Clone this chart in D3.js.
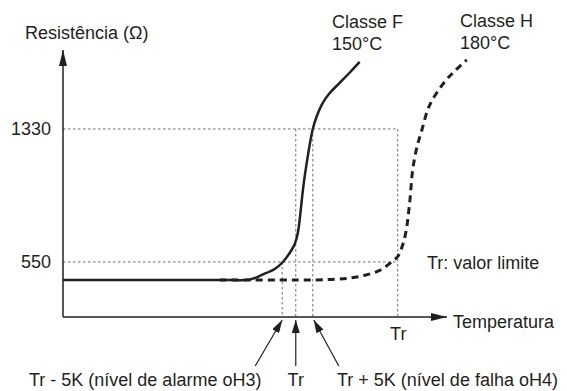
<!DOCTYPE html>
<html>
<head>
<meta charset="utf-8">
<script src="https://cdn.jsdelivr.net/npm/d3@7"></script>
<style>
  body { margin: 0; background: #fff; }
  text { font-family: "Liberation Sans", Arial, sans-serif; fill: #231f20; }
</style>
</head>
<body>
<div id="chart"></div>
<script>
// Classe F curve (solid) - temperature (K) / resistance (ohm)
const classF_temp = [81.5, 120, 131, 136.5, 140.3, 143.8, 146.2, 148.2, 149.7, 150.6, 152.1, 152.9, 155, 156.2, 157.9, 160, 162.9, 165.9, 168.8];
const classF_res  = [444, 444, 444, 447, 477, 509, 550, 603, 656, 720, 972, 1090, 1330, 1406, 1482, 1541, 1600, 1661, 1723];

// Classe H curve (dashed)
const classH_temp = [127.6, 145, 156, 162, 166, 170.3, 174.7, 178.2, 180, 182.1, 183.5, 184.4, 185.6, 187.1, 189.4, 193.8, 196.8, 200.3];
const classH_res  = [444, 444, 445, 449, 456, 472, 501, 550, 582, 697, 896, 1090, 1219, 1324, 1470, 1606, 1670, 1735];

// resistance ticks and temperature reference points
const yTicks = [550, 1330];
const limitTemp = 180;
const guideTemps = [146, 150, 155, 180];
const guideTops  = [550, 1330, 1330, 1330];
const arrowTemps = [146, 150, 155];
const arrowLabels = ["Tr - 5K (nível de alarme oH3)", "Tr", "Tr + 5K (nível de falha oH4)"];

const width = 567, height = 391;
const margin = {left: 63, right: 120, top: 50, bottom: 74};

const svg = d3.select("#chart")
  .append("svg")
    .attr("width", width)
    .attr("height", height);

const x = d3.scaleLinear()
  .domain([81.5, 194.5])
  .range([margin.left, width - margin.right]);

const y = d3.scaleLinear()
  .domain([227.4, 1793])
  .range([height - margin.bottom, margin.top]);

const x0 = x.domain()[0];
const y0 = y.domain()[0];

// arrow heads
const defs = svg.append("defs");
defs.append("marker")
    .attr("id", "axisArrow")
    .attr("viewBox", "0 0 16 8")
    .attr("refX", 16).attr("refY", 4)
    .attr("markerWidth", 16).attr("markerHeight", 8)
    .attr("markerUnits", "userSpaceOnUse")
    .attr("orient", "auto")
  .append("path")
    .attr("d", "M0,0L16,4L0,8Z")
    .attr("fill", "#231f20");
defs.append("marker")
    .attr("id", "smallArrow")
    .attr("viewBox", "0 0 13 8")
    .attr("refX", 13).attr("refY", 4)
    .attr("markerWidth", 13).attr("markerHeight", 8)
    .attr("markerUnits", "userSpaceOnUse")
    .attr("orient", "auto")
  .append("path")
    .attr("d", "M0,0L13,4L0,8Z")
    .attr("fill", "#231f20");

// dotted guide lines
const guides = svg.append("g")
  .attr("stroke", "#6d6e71")
  .attr("stroke-width", 1)
  .attr("stroke-dasharray", "2.5,2.5")
  .attr("fill", "none");

yTicks.forEach(v => {
  guides.append("line")
    .attr("x1", x(x0)).attr("x2", x(limitTemp))
    .attr("y1", y(v)).attr("y2", y(v));
});
guideTemps.forEach((t, i) => {
  guides.append("line")
    .attr("x1", x(t)).attr("x2", x(t))
    .attr("y1", y(guideTops[i])).attr("y2", y(y0));
});

// axes lines with arrows
svg.append("line")
  .attr("x1", x(x0)).attr("y1", y(y0))
  .attr("x2", x.range()[1]).attr("y2", y(y0))
  .attr("stroke", "#231f20").attr("stroke-width", 1.5)
  .attr("marker-end", "url(#axisArrow)");
svg.append("line")
  .attr("x1", x(x0)).attr("y1", y(y0))
  .attr("x2", x(x0)).attr("y2", y.range()[1])
  .attr("stroke", "#231f20").attr("stroke-width", 1.5)
  .attr("marker-end", "url(#axisArrow)");

// Y tick labels
const yAxis = svg.append("g")
  .attr("transform", `translate(${x(x0)},0)`)
  .call(d3.axisLeft(y).tickValues(yTicks).tickSize(0).tickPadding(12).tickFormat(d3.format("d")));
yAxis.select(".domain").remove();
yAxis.selectAll("text")
  .style("font-size", "18px")
  .style("font-family", "Liberation Sans, Arial, sans-serif")
  .attr("fill", "#231f20");

// X tick label (Tr)
const xAxis = svg.append("g")
  .attr("transform", `translate(0,${y(y0)})`)
  .call(d3.axisBottom(x).tickValues([limitTemp]).tickSize(0).tickPadding(10).tickFormat(() => "Tr"));
xAxis.select(".domain").remove();
xAxis.selectAll("text")
  .style("font-size", "18px")
  .style("font-family", "Liberation Sans, Arial, sans-serif")
  .attr("fill", "#231f20");

// curves
const line = d3.line()
  .x(d => x(d[0]))
  .y(d => y(d[1]))
  .curve(d3.curveCatmullRom.alpha(0.5));

svg.append("path")
  .datum(classH_temp.map((t, i) => [t, classH_res[i]]))
  .attr("d", line)
  .attr("fill", "none")
  .attr("stroke", "#231f20")
  .attr("stroke-width", 3)
  .attr("stroke-dasharray", "7,5");

svg.append("path")
  .datum(classF_temp.map((t, i) => [t, classF_res[i]]))
  .attr("d", line)
  .attr("fill", "none")
  .attr("stroke", "#231f20")
  .attr("stroke-width", 2.5);

// annotation arrows pointing to the reference temperatures
const tailOffsets = [-27, 0, 26];
arrowTemps.forEach((t, i) => {
  svg.append("line")
    .attr("x1", x(t) + tailOffsets[i]).attr("y1", y(y0) + 49)
    .attr("x2", x(t) + (i === 2 ? 1 : 0)).attr("y2", y(y0) + 3)
    .attr("stroke", "#231f20").attr("stroke-width", 1.2)
    .attr("marker-end", "url(#smallArrow)");
});

// texts
const txt = (s, tx, ty, anchor) => svg.append("text")
  .attr("x", tx).attr("y", ty)
  .attr("text-anchor", anchor || "start")
  .style("font-size", "18px")
  .text(s);

txt("Resistência (Ω)", 25, 39);
txt("Temperatura", 453, 328);
txt("Tr: valor limite", 427, 269);
txt("Classe F", 332, 28);
txt("150°C", 332, 50);
txt("Classe H", 460, 27);
txt("180°C", 460, 49);
txt(arrowLabels[0], 29, 386);
txt(arrowLabels[1], x(arrowTemps[1]), 386, "middle");
txt(arrowLabels[2], 337, 386);
</script>
</body>
</html>
